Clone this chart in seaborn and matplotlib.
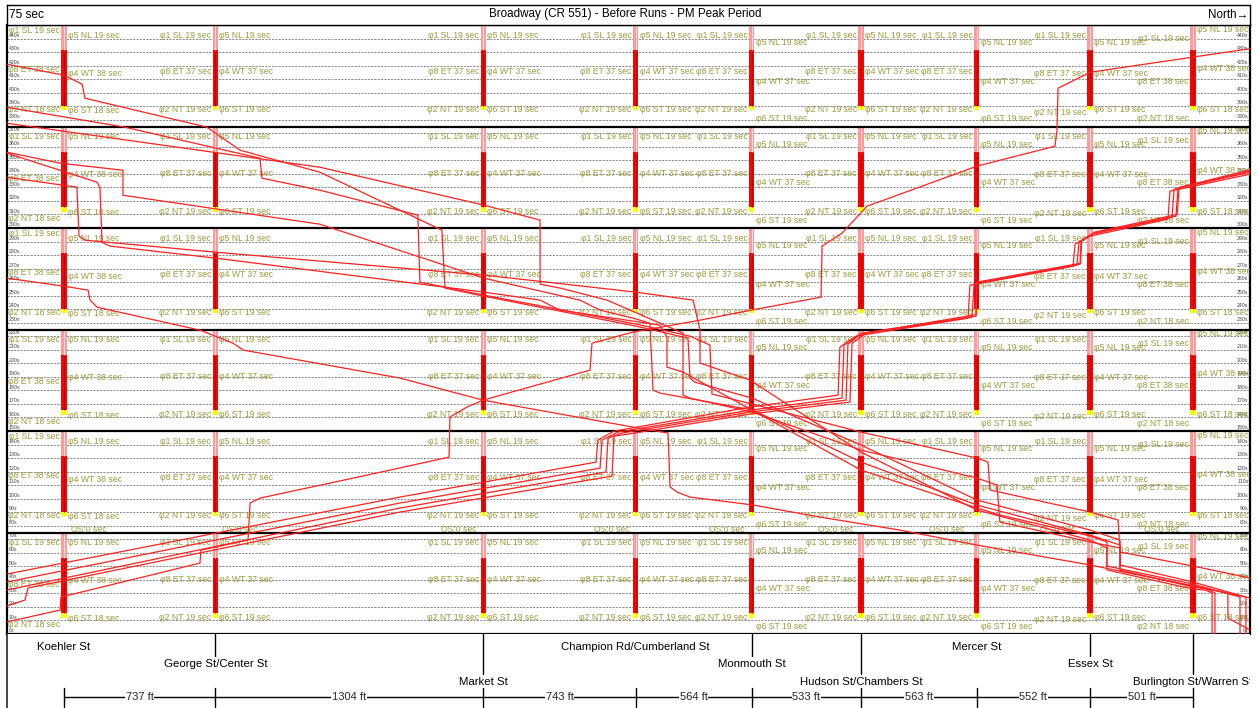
import numpy as np
import pandas as pd
import matplotlib
matplotlib.use("Agg")
import matplotlib.pyplot as plt
import seaborn as sns

sns.set_theme(style="white")
plt.rcParams['font.family'] = ['Liberation Sans', 'DejaVu Sans']

# ---------------- data ----------------
title = "Broadway (CR 551) - Before Runs - PM Peak Period"
intersections = ["Koehler St", "George St/Center St", "Market St",
                 "Champion Rd/Cumberland St", "Monmouth St", "Hudson St/Chambers St",
                 "Mercer St", "Essex St", "Burlington St/Warren St"]
link_ft = [737, 1304, 743, 564, 533, 563, 552, 501]
name_row = [0, 1, 2, 0, 1, 2, 0, 1, 2]

cycle_s = 75
n_cycles = 6
# signal display within one cycle (s from cycle start)
yellow_on, red_on, pink_on = 12.0, 15.5, 56.5

left_text = [["φ1 SL 19 sec", "φ8 ET 38 sec", "φ2 NT 18 sec"]] + \
            [["φ1 SL 19 sec", "φ8 ET 37 sec", "φ2 NT 19 sec"]] * 7 + \
            [["φ1 SL 19 sec", "φ8 ET 38 sec", "φ2 NT 18 sec"]]
right_text = [["φ5 NL 19 sec", "φ4 WT 38 sec", "φ6 ST 18 sec"]] + \
             [["φ5 NL 19 sec", "φ4 WT 37 sec", "φ6 ST 19 sec"]] * 7 + \
             [["φ5 NL 19 sec", "φ4 WT 38 sec", "φ6 ST 18 sec"]]
left_t = [[70.6, 41.8, 12.2], [67.6, 40.3, 12.2], [67.6, 40.3, 12.2], [67.6, 40.3, 12.2],
          [67.6, 40.3, 12.2], [67.6, 40.3, 12.2], [67.6, 40.3, 12.2], [67.6, 39.5, 10.7],
          [64.7, 33.6, 5.6]]
koehler_left_t_alt = [67.6, 36.6, 7.0]
right_t = [[67.6, 39.5, 11.5], [67.6, 40.3, 12.2], [67.6, 40.3, 12.2], [67.6, 40.3, 12.2],
           [61.7, 33.6, 5.6], [67.6, 40.3, 12.2], [61.7, 33.6, 5.6], [61.7, 39.5, 12.2],
           [72.0, 42.5, 12.2]]
# "OS:0 sec" label centres (ft)
os_label_ft = [122, 857, 1923, 2668, 3228, 3760, 4300, 4840, 5346]

# vehicle runs: distance (ft from Koehler St) and time (s)
runs = {
    "NB A": ([-278, -19, -15, 662, 667, 896, 906, 954, 1475, 1875, 1879, 1962, 2040, 2561, 2571,
              2770, 3097, 3345, 3686, 3691, 3788, 3910, 4445, 4825, 4835, 4840, 4996, 5789],
             [8.9, 17.7, 27.3, 52.4, 62.0, 69.4, 96.8, 100.4, 117.4, 130.7, 160.3, 167.7, 172.8, 195.0,
              214.9, 223.1, 231.9, 239.3, 248.9, 286.6, 296.2, 316.1, 345.7, 360.4, 372.3, 403.3, 415.1, 432.8]),
    "NB B1": ([-278, 1636, 2590, 2600, 2678, 3340, 3769, 3778, 3856, 4402, 4411, 4913, 4923, 4996, 5375, 5385, 5775],
              [44.3, 101.2, 127.0, 143.3, 149.9, 167.7, 176.5, 212.0, 220.1, 233.4, 257.8, 271.8, 288.1, 294.0, 306.5, 327.2, 339.8]),
    "NB B2": ([-278, 1636, 2610, 2620, 2697, 3340, 3788, 3798, 3876, 4421, 4431, 4932, 4942, 5005, 5395, 5405, 5775],
              [38.4, 96.8, 122.6, 143.3, 149.2, 165.4, 174.3, 213.5, 221.6, 234.1, 258.5, 272.5, 289.5, 295.4, 308.0, 328.7, 341.2]),
    "NB B3": ([-278, 1636, 2639, 2649, 2717, 3340, 3808, 3817, 3885, 4441, 4445, 4947, 4952, 5015, 5414, 5424, 5775],
              [32.5, 93.1, 119.7, 144.8, 148.5, 164.0, 172.8, 214.2, 222.3, 234.9, 259.3, 273.3, 290.3, 296.2, 308.7, 329.4, 342.0]),
    "NB B4": ([-278, -190, -175, 1636, 2668, 2678, 2746, 3340, 3827, 3837, 3905, 4441, 4445, 4950, 4955, 5020, 5420, 5430, 5775],
              [20.7, 25.1, 34.0, 90.1, 116.7, 146.2, 147.7, 162.5, 171.4, 214.9, 222.3, 236.0, 260.0, 274.0, 291.0, 297.0, 310.0, 330.0, 343.0]),
    "SB 1": ([5775, 5667, 5667, 5497, 4996, 4445, 4070, 3681, 3355, 3048, 2985, 2951, 2941, 2770, 2040, 1636, 872, 823, 662, 161, 127, 117, 0, -278],
             [3.0, 11.8, 30.3, 35.5, 51.0, 65.7, 76.8, 86.4, 95.3, 101.2, 104.9, 108.6, 148.5, 152.9, 172.8, 189.1, 209.8, 214.9, 224.5, 241.5, 246.7, 254.1, 257.0, 262.9]),
    "SB 2": ([5755, 5755, 5497, 5142, 5142, 4996, 4445, 3881, 3350, 3072, 3048, 3038, 2785, 2045, 1855, 1840, 1246, 857, 696, 102, 88, 0, -278],
             [0.0, 27.3, 38.4, 51.0, 69.4, 76.8, 99.0, 139.6, 174.3, 186.1, 189.1, 218.6, 227.5, 249.6, 255.6, 298.4, 341.2, 357.5, 374.5, 395.9, 406.2, 412.9, 421.0]),
    "SB 3": ([5726, 5726, 5497, 5078, 5078, 4996, 4557, 4445, 3881, 3350, 3014, 2936, 2936, 2902, 2415, 2318, 2045, 740, 224, 185, 175, 161, -278],
             [0.0, 27.3, 36.9, 50.2, 68.0, 72.4, 87.9, 93.1, 121.1, 165.4, 193.5, 197.2, 219.4, 228.2, 239.3, 246.7, 252.6, 277.7, 286.6, 289.5, 330.2, 333.8, 355.3]),
    "SB 4": ([5604, 5604, 5565, 5497, 5142, 5142, 4996, 4445, 3881, 3355, 2902, 2868, 2853, 2770, 2610, 2512, 2045, 1246, 287, 287, -19, -278],
             [0.0, 30.3, 33.2, 34.7, 47.3, 65.7, 73.1, 95.3, 127.0, 165.4, 178.0, 180.2, 229.7, 233.4, 239.3, 246.7, 262.9, 302.8, 324.2, 342.7, 347.9, 356.0]),
    "SB 5": ([5590, 5590, 5556, 5497, 5078, 5078, 4996, 4445, 3881, 3340, 3097, 3097, 3063, 2785, 2045, 740, 102, 73, 63, -278],
             [0.0, 30.3, 32.5, 33.2, 47.3, 63.5, 69.4, 91.6, 134.4, 187.6, 200.2, 224.5, 246.7, 252.6, 265.2, 282.1, 291.0, 294.0, 330.2, 337.5]),
    "SB 6": ([5775, 5497, 5142, 5142, 4996, 4557, 4543, 4445, 3881, 3350, 3048, 3014, 3014, 2644, 2415, 2318, 2318, 2045, 1246, -278],
             [26.6, 35.5, 46.5, 63.5, 68.0, 82.7, 110.1, 115.2, 135.9, 164.0, 174.3, 176.5, 222.3, 246.7, 255.6, 258.5, 305.8, 316.9, 344.9, 377.4]),
    "SB 7": ([5775, 5497, 5142, 5132, 4996, 4509, 4499, 4445, 3881, 3350, 3155, 3145, 3048, 2785, 2045, 1733, 1723, 1246, 964, 954, 740, 297, -278],
             [41.4, 50.2, 60.6, 84.2, 90.1, 106.4, 127.0, 130.0, 149.2, 169.9, 177.3, 213.5, 220.1, 229.0, 250.4, 260.0, 309.5, 327.9, 336.8, 351.6, 359.0, 374.5, 389.2]),
}

# ---------------- derived positions ----------------
pos = np.concatenate([[0], np.cumsum(link_ft)])
xmin, xmax = -277.5, 5774.7
t_max = cycle_s * n_cycles

W, H = 1257, 708
fig = plt.figure(figsize=(W / 100, H / 100), dpi=100)
fig.patch.set_facecolor("white")

ax = fig.add_axes([7 / W, (H - 634) / H, 1243 / W, 609 / H])
ax.set_xlim(xmin, xmax)
ax.set_ylim(0, t_max)
ax.set_xticks([])
ax.set_yticks([])
for s in ax.spines.values():
    s.set_color("black")
    s.set_linewidth(1.6)

olive = "#9E9A3C"
for t in range(10, t_max, 10):
    ax.axhline(t, color="#8a8a8a", lw=0.7, ls=(0, (2.2, 1.2)), zorder=1)
for c in range(1, n_cycles):
    ax.axhline(c * cycle_s, color="black", lw=1.6, zorder=6)

for t in range(0, t_max, 10):
    ax.text(xmin + 8, t + 0.6, f"{t}s", fontsize=3.8, color="#444444", ha="left", va="bottom", zorder=3)
    ax.text(xmax - 8, t + 0.6, f"{t}s", fontsize=3.8, color="#444444", ha="right", va="bottom", zorder=3)

# signal bars
bar_w = 26
for c in range(n_cycles):
    base = c * cycle_s
    ax.bar(pos, red_on - yellow_on, bottom=base + yellow_on, width=bar_w, color="#FFFF00", lw=0, zorder=4)
    ax.bar(pos, pink_on - red_on, bottom=base + red_on, width=bar_w, color="#FF0000", lw=0, zorder=4)
    ax.bar(pos, cycle_s - pink_on, bottom=base + pink_on, width=bar_w, color="#FF9A9A", lw=0, zorder=4)
    ax.vlines(pos, base + red_on, base + pink_on, color="#A00000", lw=0.7, zorder=5)
    ax.vlines(pos, base + pink_on, base + cycle_s, color="#FFE0E0", lw=0.7, zorder=5)

# phase labels
gap = 20
for c in range(n_cycles):
    base = c * cycle_s
    from_top = n_cycles - 1 - c
    for i, p in enumerate(pos):
        lt = left_t[i]
        if i == 0 and from_top % 2 == 1:
            lt = koehler_left_t_alt
        for txt, t in zip(left_text[i], lt):
            ax.text(p - gap, base + t, txt, fontsize=6.2, color=olive, ha="right", va="center",
                    zorder=3, clip_on=True)
        for txt, t in zip(right_text[i], right_t[i]):
            ax.text(p + gap, base + t, txt, fontsize=6.2, color=olive, ha="left", va="center",
                    zorder=3, clip_on=True)
for x in os_label_ft:
    ax.text(x, cycle_s + 2.3, "OS:0 sec", fontsize=6.2, color=olive,
            ha="center", va="center", zorder=3, clip_on=True)

# trajectories
rows = []
for name, (xs, ts) in runs.items():
    for k, (x, t) in enumerate(zip(xs, ts)):
        rows.append({"run": name, "order": k, "dist": x, "time": t})
df = pd.DataFrame(rows)
sns.lineplot(data=df, x="dist", y="time", units="run", estimator=None, sort=False,
             color="#FF2222", lw=0.9, ax=ax, zorder=7, legend=False)
ax.set_xlabel("")
ax.set_ylabel("")
ax.set_xlim(xmin, xmax)
ax.set_ylim(0, t_max)

# title strip
axt = fig.add_axes([7 / W, (H - 25) / H, 1243 / W, 20 / H])
axt.set_xlim(7, 1250)
axt.set_ylim(25, 5)
axt.set_xticks([])
axt.set_yticks([])
for s in axt.spines.values():
    s.set_color("black")
    s.set_linewidth(1.0)
axt.text(9, 14.5, "75 sec", fontsize=8.6, ha="left", va="center", color="black")
axt.text(625, 14.5, title, fontsize=8.4, ha="center", va="center", color="black")
axt.text(1248, 14.5, "North\u2192", fontsize=8.4, ha="right", va="center", color="black")

# bottom strip
axb = fig.add_axes([7 / W, 0, 1243 / W, 74 / H])
axb.set_xlim(xmin, xmax)
axb.set_ylim(708, 634)
axb.set_xticks([])
axb.set_yticks([])
for k, s in axb.spines.items():
    s.set_visible(k == "left")
axb.spines["left"].set_linewidth(1.2)
row_y = [647, 664, 682]
tick_end = [634, 656, 674]
for p, nm, r in zip(pos, intersections, name_row):
    axb.text(p, row_y[r], nm, fontsize=8.2, ha="center", va="center", color="black", clip_on=True)
    if r > 0:
        axb.plot([p, p], [634, tick_end[r]], color="black", lw=1.0)
axb.plot([pos[0], pos[-1]], [697, 697], color="black", lw=1.0)
for p in pos:
    axb.plot([p, p], [688, 707], color="black", lw=1.0)
for a, b, d in zip(pos[:-1], pos[1:], link_ft):
    axb.text((a + b) / 2, 697, f"{d} ft", fontsize=8.0, ha="center", va="center",
             bbox=dict(facecolor="white", edgecolor="none", pad=0.6))

fig.savefig("out.png", dpi=100)
